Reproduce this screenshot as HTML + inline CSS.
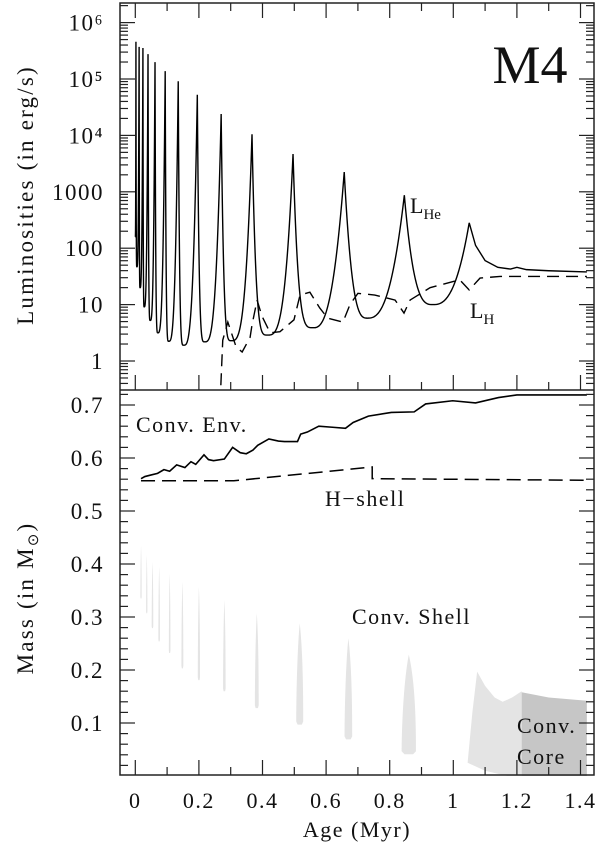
<!DOCTYPE html>
<html><head><meta charset="utf-8">
<style>
html,body{margin:0;padding:0;background:#fff;}
svg{display:block;font-family:"Liberation Serif",serif;}
text{fill:#111;}
</style></head>
<body>
<svg id="chart" width="600" height="847" viewBox="0 0 600 847">
<g id="shells"></g>
<g id="lines"></g>
<g id="axes"></g>
<text x="530" y="83" font-size="54" text-anchor="middle">M4</text>
<text x="410" y="213" font-size="22">L<tspan font-size="15" dy="6">He</tspan></text>
<text x="470" y="318" font-size="22">L<tspan font-size="15" dy="6">H</tspan></text>
<text x="136" y="432" font-size="22" letter-spacing="1.5">Conv. Env.</text>
<text x="325" y="506" font-size="22" letter-spacing="1.5">H−shell</text>
<text x="352" y="624" font-size="22" letter-spacing="1.5">Conv. Shell</text>
<text x="517" y="733" font-size="22" letter-spacing="1.5">Conv.</text>
<text x="517" y="764" font-size="22" letter-spacing="1.5">Core</text>
<text x="357" y="837" font-size="22" letter-spacing="1.5" text-anchor="middle">Age (Myr)</text>
<text transform="translate(33,195) rotate(-90)" font-size="23" letter-spacing="2.2" text-anchor="middle">Luminosities (in erg/s)</text>
<text transform="translate(33,598) rotate(-90)" font-size="23" letter-spacing="2.2" text-anchor="middle">Mass (in M<tspan font-size="15" dy="5">⊙</tspan><tspan dy="-5">)</tspan></text>
</svg>
<script>
// ---- data ----
const pulseAges = [0.002,0.012,0.024,0.040,0.062,0.094,0.135,0.195,0.270,0.367,0.496,0.657,0.846,1.05];
const pulsePeaksLog = [5.66,5.57,5.55,5.44,5.3,5.14,4.96,4.72,4.38,4.02,3.67,3.35,2.94,2.45];
const minAges = [0.005,0.015,0.028,0.047,0.071,0.105,0.152,0.218,0.302,0.416,0.56,0.73,0.936];
const minLogs = [1.67,1.3,0.96,0.72,0.5,0.35,0.28,0.34,0.36,0.46,0.59,0.76,1.0];
const tailAges = [1.07,1.1,1.14,1.18,1.2,1.23,1.3,1.42];
const tailLogs = [2.05,1.78,1.66,1.63,1.66,1.62,1.6,1.58];
const lhAges = [0.269,0.275,0.291,0.317,0.336,0.361,0.367,0.383,0.398,0.424,0.455,0.499,0.518,0.549,0.580,0.605,0.653,0.675,0.700,0.753,0.817,0.845,0.864,0.927,1.02,1.05,1.084,1.147,1.42];
const lhLogs = [-0.43,0.37,0.69,0.25,0.16,0.42,0.64,1.08,0.8,0.5,0.52,0.73,1.17,1.22,0.94,0.76,0.69,1.0,1.2,1.17,1.08,0.85,1.08,1.3,1.44,1.26,1.47,1.5,1.5];
const envAges = [0.018,0.03,0.05,0.07,0.09,0.108,0.13,0.156,0.175,0.19,0.216,0.23,0.246,0.28,0.306,0.33,0.349,0.37,0.385,0.42,0.45,0.469,0.51,0.52,0.541,0.577,0.62,0.661,0.685,0.733,0.805,0.877,0.913,0.998,1.07,1.142,1.2,1.42];
const envMass = [0.561,0.565,0.568,0.571,0.578,0.575,0.587,0.582,0.593,0.588,0.606,0.597,0.595,0.598,0.62,0.61,0.608,0.615,0.624,0.636,0.632,0.631,0.631,0.645,0.649,0.66,0.658,0.656,0.667,0.679,0.686,0.687,0.702,0.708,0.704,0.714,0.719,0.719];
const hshellAges = [0.018,0.31,0.745,0.745,1.42];
const hshellMass = [0.557,0.557,0.583,0.561,0.558];
const shellAges = [0.018,0.036,0.054,0.075,0.108,0.148,0.2,0.28,0.382,0.517,0.67,0.86];
const shellTops = [0.435,0.417,0.404,0.395,0.382,0.367,0.357,0.332,0.307,0.288,0.26,0.229];
const shellBottoms = [0.335,0.307,0.279,0.254,0.232,0.203,0.181,0.16,0.128,0.097,0.069,0.041];
const shellWidths = [0.004,0.004,0.005,0.005,0.005,0.006,0.007,0.008,0.012,0.022,0.024,0.045];
const bigShellAges = [1.045,1.06,1.075,1.1,1.13,1.155,1.185,1.215,1.215,1.17,1.1,1.045];
const bigShellMass = [0.025,0.12,0.197,0.17,0.148,0.14,0.148,0.16,0.0,0.0,0.01,0.025];
const coreAges = [1.215,1.3,1.42,1.42,1.215];
const coreMass = [0.158,0.148,0.142,0.0,0.0];
const xTicks = [0,0.2,0.4,0.6,0.8,1,1.2,1.4];
const xTickLabels = ["0","0.2","0.4","0.6","0.8","1","1.2","1.4"];
const massTicks = [0.1,0.2,0.3,0.4,0.5,0.6,0.7];
const logTickLabels = ["1","10","100","1000","10⁴","10⁵","10⁶"];

// ---- scales ----
const L=120, R=594, T=3, MID=390, B=775;
const sx = t => 135.3 + t*318;
const sl = lg => 361 - lg*56.4;
const sm = m => 776 - m*530;
const NS='http://www.w3.org/2000/svg';
function mk(tag, parent, attrs){const e=document.createElementNS(NS,tag);for(const k in attrs)e.setAttribute(k,attrs[k]);parent.appendChild(e);return e;}
const gS=document.getElementById('shells'), gL=document.getElementById('lines'), gA=document.getElementById('axes');

// ---- conv shells ----
shellAges.forEach((a,i)=>{
  const w=shellWidths[i], top=shellTops[i], bot=shellBottoms[i];
  const h=top-bot, l=a-w/2, r=a+w/2;
  const d=`M${sx(a)},${sm(top)} C${sx(r)},${sm(top-h*0.3)} ${sx(r)},${sm(bot+h*0.2)} ${sx(r)},${sm(bot+h*0.03)} L${sx(r-w*0.2)},${sm(bot)} L${sx(l+w*0.2)},${sm(bot)} L${sx(l)},${sm(bot+h*0.03)} C${sx(l)},${sm(bot+h*0.2)} ${sx(l+w*0.1)},${sm(top-h*0.3)} ${sx(a)},${sm(top)} Z`;
  const p=mk('path',gS,{d:d,fill:'#e4e4e4'});
  
  
});
const bs=mk('path',gS,{d:'M'+bigShellAges.map((a,i)=>sx(a)+','+sm(bigShellMass[i])).join(' L')+' Z',fill:'#e4e4e4'});


const cc=mk('path',gS,{d:'M'+coreAges.map((a,i)=>sx(a)+','+sm(coreMass[i])).join(' L')+' Z',fill:'#c6c6c6'});



// ---- L_He ----
let pts=[[0.0,2.2]];
for(let i=0;i<pulseAges.length;i++){
  const a0 = i===0?0:minAges[i-1], m0 = i===0?2.2:minLogs[i-1];
  const a1=pulseAges[i], P=pulsePeaksLog[i];
  const k = i<11?3.2:2.6;
  for(let j=1;j<=50;j++){const u=j/50;pts.push([a0+(a1-a0)*u, m0+(P-m0)*Math.pow(u,k)]);}
  if(i<minAges.length){
    const b=minAges[i], m=minLogs[i], kf=i<11?4:3;
    for(let j=1;j<=50;j++){const u=j/50;pts.push([a1+(b-a1)*u, m+(P-m)*Math.pow(1-u,kf)]);}
  }
}
tailAges.forEach((a,i)=>pts.push([a,tailLogs[i]]));
const lhe=mk('path',gL,{d:'M'+pts.map(p=>sx(p[0]).toFixed(2)+','+sl(p[1]).toFixed(2)).join(' L'),fill:'none',stroke:'#000','stroke-width':1.4});



const lh=mk('path',gL,{d:'M'+lhAges.map((a,i)=>sx(a)+','+Math.min(MID,sl(lhLogs[i]))).join(' L'),fill:'none',stroke:'#000','stroke-width':1.4,'stroke-dasharray':'12,7'});



// ---- mass panel lines ----
let ed='M'+sx(envAges[0])+','+sm(envMass[0]);
for(let i=1;i<envAges.length;i++){ed+=' L'+sx(envAges[i])+','+sm(envMass[i]);}
const env=mk('path',gL,{d:ed,fill:'none',stroke:'#000','stroke-width':1.6});


const hs=mk('path',gL,{d:'M'+hshellAges.map((a,i)=>sx(a)+','+sm(hshellMass[i])).join(' L'),fill:'none',stroke:'#000','stroke-width':1.5,'stroke-dasharray':'14,7'});



// ---- axes ----
const fr=mk('rect',gA,{x:L,y:T,width:R-L,height:B-T,fill:'none',stroke:'#222','stroke-width':1.5});


const dv=mk('line',gA,{x1:L,x2:R,y1:MID,y2:MID,stroke:'#222','stroke-width':1.5});


function ln(x1,y1,x2,y2){mk('line',gA,{x1,y1,x2,y2,stroke:'#222','stroke-width':1.2});}
for(let t=0;t<=1.45;t+=0.1){
  const x=sx(t), major=Math.round(t*10)%2===0, len=major?15:8;
  ln(x,B,x,B-len); ln(x,MID,x,MID-len); ln(x,T,x,T+len);
}
xTicks.forEach((t,i)=>{
  const tx=mk('text',gA,{x:sx(t),y:808,'font-size':22,'letter-spacing':1.5,'text-anchor':'middle'});
  tx.textContent=xTickLabels[i];
  
  
});
for(let d=-1;d<=6;d++){
  for(let k=1;k<=9;k++){
    const y=sl(d+Math.log10(k)); if(y<T||y>MID) continue;
    const len=k===1?15:8; ln(L,y,L+len,y); ln(R,y,R-len,y);
  }
}
logTickLabels.forEach((lbl,i)=>{
  const tx=mk('text',gA,{x:104,y:sl(i)+8,'font-size':23,'letter-spacing':1.5,'text-anchor':'end'});
  tx.textContent=lbl;
  
  
});
for(let m=0.02;m<0.73;m+=0.02){
  const y=sm(m); const major=Math.abs(m*10-Math.round(m*10))<0.01; const len=major?15:8;
  ln(L,y,L+len,y); ln(R,y,R-len,y);
}
massTicks.forEach(m=>{
  const tx=mk('text',gA,{x:104,y:sm(m)+8,'font-size':23,'letter-spacing':1.5,'text-anchor':'end'});
  tx.textContent=m.toFixed(1);
  
  
});
</script>
</body></html>
